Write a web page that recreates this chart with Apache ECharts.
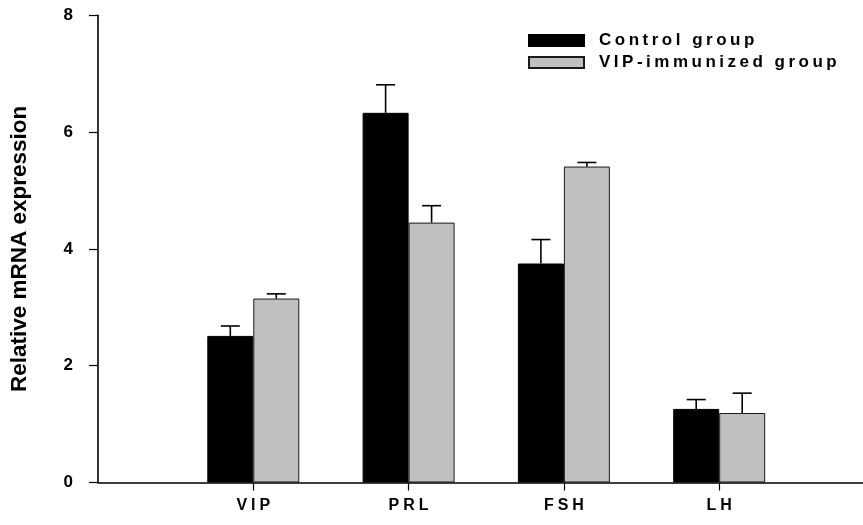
<!DOCTYPE html>
<html>
<head>
<meta charset="utf-8">
<script src="https://cdn.jsdelivr.net/npm/echarts@6/dist/echarts.min.js"></script>
<style>
  html, body { margin: 0; padding: 0; background: #fff; }
  #chart { width: 863px; height: 525px; }
</style>
</head>
<body>
<div id="chart"></div>
<script>
// Relative mRNA expression, mean with upper error (SEM)
const categories = ['VIP', 'PRL', 'FSH', 'LH'];
const seriesNames = ['Control group', 'VIP-immunized group'];
const control = [2.51, 6.33, 3.75, 1.26];
const controlErr = [0.17, 0.48, 0.41, 0.16];
const immunized = [3.15, 4.45, 5.41, 1.19];
const immunizedErr = [0.08, 0.29, 0.07, 0.34];
const yTicks = [0, 2, 4, 6, 8];

const FONT = '"Liberation Sans", Arial, Helvetica, sans-serif';
const BAR_W = 46;
const CAT_SPACING = 4;
const LEGEND_SPACING = 3.5;

// Category axis with an empty slot at each end so the groups sit at 1..4
const axisCats = [''].concat(categories, ['']);
const pad = arr => [null].concat(arr, [null]);

// Letter-spaced text for the category labels and legend entries
const spacing = {};
categories.forEach(c => { spacing[c] = CAT_SPACING + 'px'; });
seriesNames.forEach(n => { spacing[n] = LEGEND_SPACING + 'px'; });
const baseFill = CanvasRenderingContext2D.prototype.fillText;
CanvasRenderingContext2D.prototype.fillText = function (t, x, y, w) {
  const s = spacing[String(t)];
  this.letterSpacing = s || '0px';
  return w === undefined ? baseFill.call(this, t, x, y) : baseFill.call(this, t, x, y, w);
};

const dom = document.getElementById('chart');
const chart = echarts.init(dom, null, { renderer: 'canvas' });

function errorSeries(values, errs, offset) {
  const data = values.map((v, i) => [i + 1, v, errs[i]]);
  return {
    type: 'custom',
    silent: true,
    z: 3,
    data: data,
    renderItem: function (params, api) {
      const base = api.coord([api.value(0), api.value(1)]);
      const top = api.coord([api.value(0), api.value(1) + api.value(2)]);
      const x = base[0] + offset;
      const half = 9.5;
      const st = { stroke: '#000', lineWidth: 1.6 };
      return {
        type: 'group',
        children: [
          { type: 'line', shape: { x1: x, y1: base[1], x2: x, y2: top[1] }, style: st },
          { type: 'line', shape: { x1: x - half, y1: top[1], x2: x + half, y2: top[1] }, style: st }
        ]
      };
    }
  };
}

const option = {
  animation: false,
  backgroundColor: '#fff',
  grid: { left: 98, width: 776.5, top: 15.3, bottom: 42.5, outerBoundsMode: 'none', containLabel: false },
  legend: {
    orient: 'vertical',
    left: 528,
    top: 32,
    padding: 0,
    itemWidth: 55,
    itemHeight: 11,
    itemGap: 5,
    icon: 'rect',
    data: seriesNames,
    textStyle: { fontFamily: FONT, fontSize: 17, fontWeight: 'bold', color: '#000', padding: [0, 0, 0, 10] }
  },
  xAxis: {
    type: 'category',
    data: axisCats,
    boundaryGap: false,
    axisLine: { show: true, lineStyle: { color: '#000', width: 1.6 } },
    axisTick: {
      show: true,
      length: 8,
      interval: function (index) { return index >= 1 && index <= categories.length; },
      lineStyle: { color: '#000', width: 1.2 }
    },
    axisLabel: {
      interval: 0,
      margin: 15,
      padding: [0, 0, 0, CAT_SPACING],
      fontFamily: FONT,
      fontSize: 16,
      fontWeight: 'bold',
      color: '#000'
    },
    splitLine: { show: false }
  },
  yAxis: {
    type: 'value',
    min: yTicks[0],
    max: yTicks[yTicks.length - 1],
    interval: yTicks[1] - yTicks[0],
    name: 'Relative mRNA expression',
    nameLocation: 'middle',
    nameGap: 67,
    nameTextStyle: { fontFamily: FONT, fontSize: 22.5, fontWeight: 'bold', color: '#000' },
    axisLine: { show: true, lineStyle: { color: '#000', width: 1.6 } },
    axisTick: { show: true, inside: false, length: 9, lineStyle: { color: '#000', width: 1.2 } },
    axisLabel: { margin: 25, fontFamily: FONT, fontSize: 17, fontWeight: 'bold', color: '#000' },
    splitLine: { show: false }
  },
  series: [
    {
      name: seriesNames[0],
      type: 'bar',
      data: pad(control),
      barWidth: BAR_W,
      barGap: '0%',
      itemStyle: { color: '#000', borderColor: '#000', borderWidth: 1 }
    },
    {
      name: seriesNames[1],
      type: 'bar',
      data: pad(immunized),
      barWidth: BAR_W,
      barGap: '0%',
      itemStyle: { color: '#c0c0c0', borderColor: '#1a1a1a', borderWidth: 1 }
    },
    errorSeries(control, controlErr, -BAR_W / 2),
    errorSeries(immunized, immunizedErr, BAR_W / 2)
  ]
};

chart.setOption(option);
</script>
</body>
</html>
